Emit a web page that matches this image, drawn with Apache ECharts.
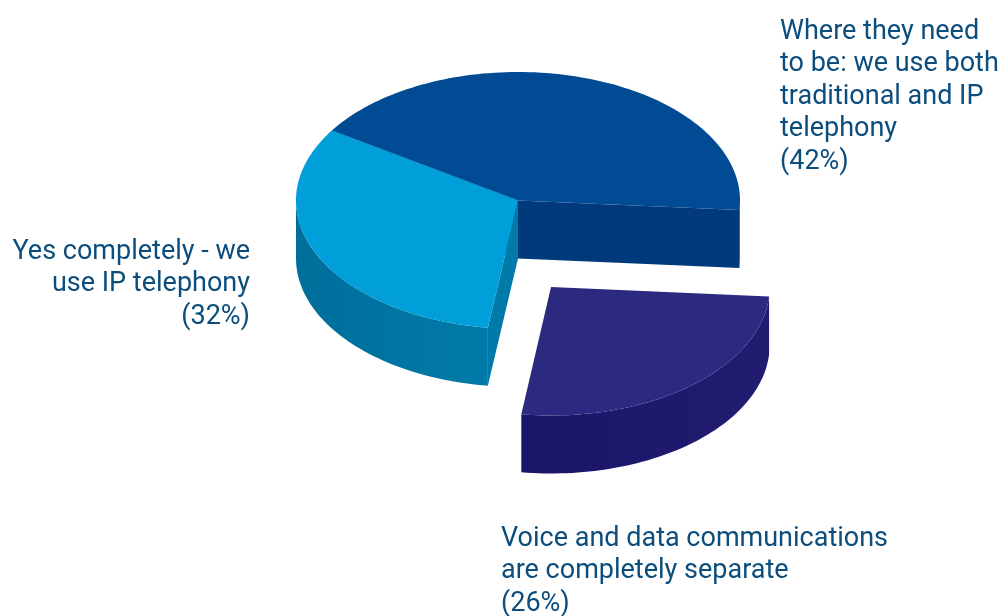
<!DOCTYPE html>
<html>
<head>
<meta charset="utf-8">
<style>html,body{margin:0;padding:0;background:#fff}#chart{width:1006px;height:616px}</style>
<script src="https://cdn.jsdelivr.net/npm/echarts@6/dist/echarts.min.js"></script>
</head>
<body>
<div id="chart"></div>
<script>
// Survey answers, in clockwise order from the first slice edge
const categories = [
  'Where they need\nto be: we use both\ntraditional and IP\ntelephony',
  'Voice and data communications\nare completely separate',
  'Yes completely - we\nuse IP telephony'
];
const shares = [42, 26, 32];

// Pie geometry: an ellipse seen in perspective, extruded downwards
const CENTER = [518, 200.5];
const RX = 222, RY = 128.5, DEPTH = 58;
const START_ANGLE = 147;
const EXPLODE = [[0, 0], [33, 86.5], [0, 0]];
const RX_SCALE = [1, 0.985, 1];

const TOP_COLORS = ['#004b93', '#2b2a80', '#009fd9'];
const CUT_COLORS = ['#003a7c', '#1d186c', '#007aa9'];
const RIM_COLORS = [['#003a7c', '#003a7c'], ['#1a1568', '#211c70'], ['#006e9b', '#007ba9']];

const LABEL_BOX = [
  { x: 780, y: 16, align: 'left' },
  { x: 501, y: 523, align: 'left' },
  { x: 250, y: 236, align: 'right' }
];

const total = shares.reduce((a, b) => a + b, 0);
const sinDeg = d => Math.sin(d * Math.PI / 180);
const cosDeg = d => Math.cos(d * Math.PI / 180);

// Samples the rim between two angles, walking clockwise
function arc(cx, cy, rx, from, to) {
  const pts = [];
  const steps = Math.max(2, Math.ceil(Math.abs(from - to) / 1.5));
  for (let k = 0; k <= steps; k++) {
    const a = from + (to - from) * k / steps;
    pts.push([cx + rx * cosDeg(a), cy - RY * sinDeg(a)]);
  }
  return pts;
}

function renderSlice(params, api) {
  const i = params.dataIndex;
  const before = shares.slice(0, i).reduce((a, b) => a + b, 0);
  const a0 = START_ANGLE - before / total * 360;
  const a1 = a0 - api.value(0) / total * 360;
  const cx = CENTER[0] + EXPLODE[i][0];
  const cy = CENTER[1] + EXPLODE[i][1];
  const rx = RX * RX_SCALE[i];
  const children = [];

  // Cut faces whose outward normal points at the viewer
  [[a0, a0 + 90], [a1, a1 - 90]].forEach(([edge, normal]) => {
    if (sinDeg(normal) < 0) {
      const rim = [cx + rx * cosDeg(edge), cy - RY * sinDeg(edge)];
      children.push({
        type: 'polygon',
        shape: { points: [[cx, cy], rim, [rim[0], rim[1] + DEPTH], [cx, cy + DEPTH]] },
        style: { fill: CUT_COLORS[i] }
      });
    }
  });

  // Outer wall: only the lower half of the ellipse faces the viewer
  const wallFrom = Math.min(a0, 0);
  const wallTo = Math.max(a1, -180);
  if (wallFrom > wallTo) {
    const upper = arc(cx, cy, rx, wallFrom, wallTo);
    const lower = upper.slice().reverse().map(p => [p[0], p[1] + DEPTH]);
    children.push({
      type: 'polygon',
      shape: { points: upper.concat(lower) },
      style: {
        fill: new echarts.graphic.LinearGradient(0, 0, 1, 0, [
          { offset: 0, color: RIM_COLORS[i][0] },
          { offset: 1, color: RIM_COLORS[i][1] }
        ])
      }
    });
  }

  // Top face
  children.push({
    type: 'polygon',
    shape: { points: [[cx, cy]].concat(arc(cx, cy, rx, a0, a1)) },
    style: { fill: TOP_COLORS[i] }
  });

  // Caption with the stated share
  const box = LABEL_BOX[i];
  children.push({
    type: 'text',
    style: {
      x: box.x,
      y: box.y,
      text: categories[i] + '\n(' + api.value(0) + '%)',
      align: box.align,
      verticalAlign: 'top',
      fill: '#0b4d7d',
      font: '27px Roboto, sans-serif',
      lineHeight: 32.4
    }
  });

  return { type: 'group', children };
}

const chart = echarts.init(document.getElementById('chart'), null, { renderer: 'canvas' });
chart.setOption({
  animation: false,
  backgroundColor: '#ffffff',
  series: [{
    type: 'custom',
    coordinateSystem: 'none',
    silent: true,
    data: shares.map(v => [v]),
    renderItem: renderSlice
  }]
});
</script>
</body>
</html>
